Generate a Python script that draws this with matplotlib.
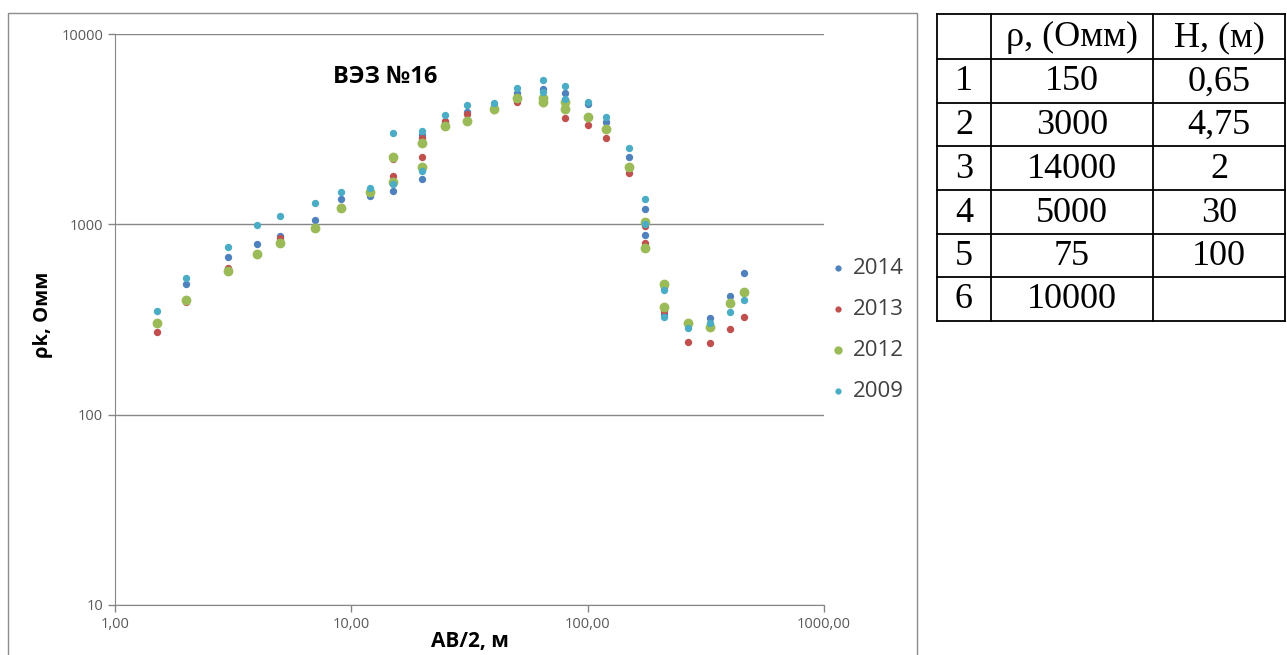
import numpy as np
import matplotlib.pyplot as plt
from matplotlib.ticker import FixedLocator, NullLocator

# VES sounding #16, apparent resistivity by year
ab2 = [1.5, 2, 3, 4, 5, 7, 9, 12, 15, 15, 20, 20, 25, 31, 40, 50, 65, 65,
       80, 80, 100, 120, 150, 175, 175, 210, 210, 265, 330, 400, 460]

rho_2014 = [304, 484, 676, 785, 868, 1054, 1353, 1414, 2266, 1496, 2950, 1730,
            3450, 3900, 4200, 4879, 5121, 4550, 4879, 4400, 4285, 3460, 2249,
            1199, 879, 470, 340, 295, 323, 420, 553]
rho_2013 = [273, 389, 588, 700, 850, 970, 1230, 1480, 2200, 1794, 2830, 2249,
            3490, 3800, 4000, 4409, 4450, 4350, 4500, 3606, 3325, 2830, 1853,
            984, 794, 470, 352, 242, 239, 281, 327]
rho_2012 = [304, 400, 569, 695, 795, 960, 1222, 1484, 2266, 1674, 2684, 2008,
            3287, 3490, 4021, 4628, 4600, 4409, 4409, 4021, 3650, 3157, 2008,
            1032, 748, 486, 366, 302, 290, 384, 443]
rho_2009 = [350, 522, 763, 992, 1102, 1300, 1479, 1546, 3019, 1629, 3103, 1913,
            3753, 4236, 4355, 5184, 5734, 4939, 5330, 4537, 4409, 3650, 2527,
            1353, 1007, 451, 327, 286, 302, 346, 400]

years = ['2014', '2013', '2012', '2009']
colors = ['#4F81BD', '#C0504D', '#9BBB59', '#4BACC6']
sizes = [28, 28, 50, 28]

x_ticks = [1, 10, 100, 1000]
x_labels = ['1,00', '10,00', '100,00', '1000,00']
y_ticks = [10, 100, 1000, 10000]
y_labels = ['10', '100', '1000', '10000']

# layer model table
layer_no = ['1', '2', '3', '4', '5', '6']
layer_rho = ['150', '3000', '14000', '5000', '75', '10000']
layer_h = ['0,65', '4,75', '2', '30', '100', '']
table_head = ['', 'ρ, (Омм)', 'H, (м)']

plt.rcParams['font.family'] = ['Open Sans', 'DejaVu Sans']

W, H = 1287, 655
fig = plt.figure(figsize=(W / 100, H / 100), dpi=100)

# chart area border
fig.patches.append(plt.Rectangle((8 / W, -0.01), (917 - 8) / W, 1 - 13 / H + 0.01,
                                 transform=fig.transFigure, fill=False,
                                 edgecolor='#8c8c8c', linewidth=1))

ax = fig.add_axes([115 / W, (H - 605) / H, 709 / W, 571 / H])
all_rho = [rho_2014, rho_2013, rho_2012, rho_2009]
for yr, vals, c, s in zip(years, all_rho, colors, sizes):
    ax.scatter(ab2, vals, s=s, color=c, label=yr, linewidths=0, zorder=3)

ax.set_xscale('log')
ax.set_yscale('log')
ax.set_xlim(1, 1000)
ax.set_ylim(10, 10000)
ax.xaxis.set_major_locator(FixedLocator(x_ticks))
ax.yaxis.set_major_locator(FixedLocator(y_ticks))
ax.xaxis.set_minor_locator(NullLocator())
ax.yaxis.set_minor_locator(NullLocator())
ax.set_xticklabels(x_labels, fontsize=10.5, color='#595959')
ax.set_yticklabels(y_labels, fontsize=10.5, color='#595959')
ax.tick_params(axis='both', length=5, width=1, color='#868686', direction='out')
ax.tick_params(axis='x', pad=4)

for side in ['top', 'right']:
    ax.spines[side].set_visible(False)
for side in ['left', 'bottom']:
    ax.spines[side].set_color('#868686')
ax.yaxis.grid(True, color='#868686', linewidth=1)
ax.set_axisbelow(True)

ax.set_xlabel('АВ/2, м', fontsize=15, fontweight='bold')
ax.xaxis.set_label_coords(0.5, -0.046)
ax.set_ylabel('ρk, Омм', fontsize=14.5, fontweight='bold')
ax.yaxis.set_label_coords(-0.0875, 0.508)
ax.text(0.381, 0.925, 'ВЭЗ №16', transform=ax.transAxes, fontsize=17,
        fontweight='bold', ha='center', va='center')

ax.legend(loc='center left', bbox_to_anchor=(812 / W, 1 - 330 / H),
          bbox_transform=fig.transFigure, frameon=False, fontsize=16,
          labelspacing=0.9, handlelength=0.5, handletextpad=0.45,
          labelcolor='#404040', scatterpoints=1, markerscale=0.85)

# table to the right
tx = [937, 991, 1153, 1285]
ty = [14, 59, 103, 146, 190, 234, 277, 321]
tab = fig.add_axes([0, 0, 1, 1], facecolor='none')
tab.set_xlim(0, W)
tab.set_ylim(H, 0)
tab.axis('off')
for x in tx:
    tab.plot([x, x], [ty[0], ty[-1]], color='black', linewidth=1.3)
for y in ty:
    tab.plot([tx[0], tx[-1]], [y, y], color='black', linewidth=1.3)
rows = [table_head] + [[a, b, c] for a, b, c in zip(layer_no, layer_rho, layer_h)]
for i, row in enumerate(rows):
    yc = (ty[i] + ty[i + 1]) / 2
    for j, txt in enumerate(row):
        xc = (tx[j] + tx[j + 1]) / 2
        tab.text(xc, yc + 1, txt, ha='center', va='center', fontsize=26,
                 family=['Liberation Serif', 'DejaVu Serif'])

fig.savefig('out.png', dpi=100)
